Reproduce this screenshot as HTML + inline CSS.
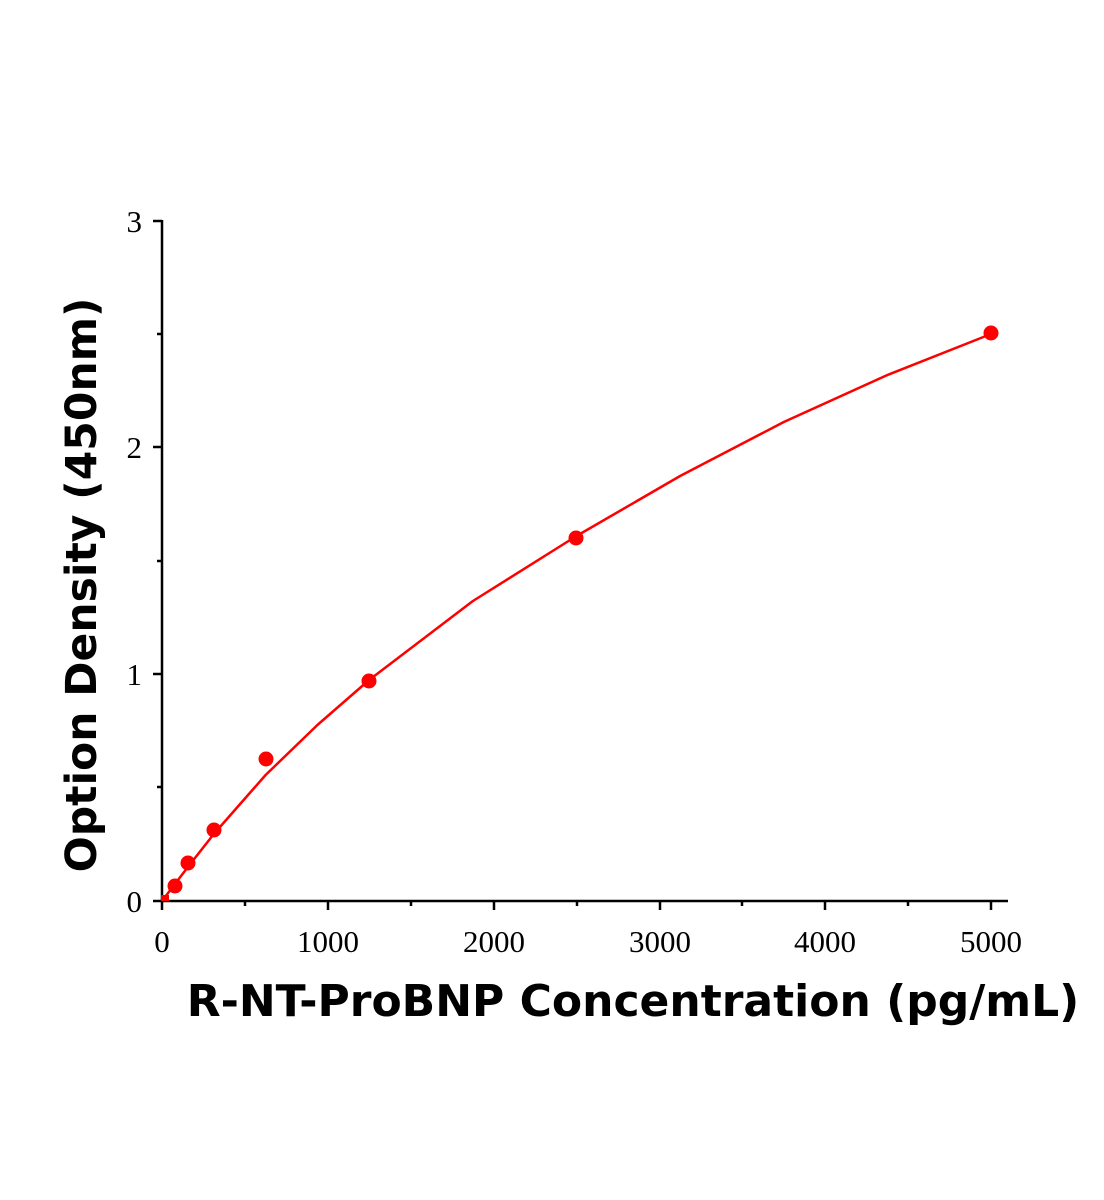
<!DOCTYPE html>
<html><head><meta charset="utf-8"><style>body{margin:0;background:#fff}svg{display:block}</style></head>
<body>
<svg width="1104" height="1200" xmlns="http://www.w3.org/2000/svg">
<g stroke="#000" stroke-width="2.5" fill="none">
<line x1="162" y1="220" x2="162" y2="902"/>
<line x1="161" y1="901" x2="1008" y2="901"/>
<line x1="162" y1="901" x2="162" y2="910"/>
<line x1="328" y1="901" x2="328" y2="910"/>
<line x1="494" y1="901" x2="494" y2="910"/>
<line x1="660" y1="901" x2="660" y2="910"/>
<line x1="825" y1="901" x2="825" y2="910"/>
<line x1="991" y1="901" x2="991" y2="910"/>
<line x1="245" y1="901" x2="245" y2="906"/>
<line x1="411" y1="901" x2="411" y2="906"/>
<line x1="577" y1="901" x2="577" y2="906"/>
<line x1="742" y1="901" x2="742" y2="906"/>
<line x1="908" y1="901" x2="908" y2="906"/>
<line x1="153" y1="901" x2="162" y2="901"/>
<line x1="153" y1="674" x2="162" y2="674"/>
<line x1="153" y1="447" x2="162" y2="447"/>
<line x1="153" y1="221" x2="162" y2="221"/>
<line x1="157" y1="787" x2="162" y2="787"/>
<line x1="157" y1="561" x2="162" y2="561"/>
<line x1="157" y1="334" x2="162" y2="334"/>
</g>
<g font-family="Liberation Serif, serif" font-size="31" fill="#000">
<g text-anchor="middle">
<text x="162" y="952">0</text><text x="328" y="952">1000</text><text x="494" y="952">2000</text>
<text x="660" y="952">3000</text><text x="825" y="952">4000</text><text x="991" y="952">5000</text>
</g>
<g text-anchor="end">
<text x="142" y="912">0</text><text x="142" y="685">1</text><text x="142" y="458">2</text><text x="142" y="232">3</text>
</g>
</g>
<text x="633" y="1016" text-anchor="middle" font-family="DejaVu Sans, sans-serif" font-weight="bold" font-size="44" fill="#000">R-NT-ProBNP Concentration (pg/mL)</text>
<text transform="translate(96,585) rotate(-90)" text-anchor="middle" font-family="DejaVu Sans, sans-serif" font-weight="bold" font-size="42.5" fill="#000">Option Density (450nm)</text>
<polyline fill="none" stroke="#f00" stroke-width="2.5" stroke-linejoin="round" points="162,901 187.9,867 213.8,834 265.6,775 317.4,725 369.1,680 472.9,601 576.5,536 680.1,476 783.8,422 887.4,375 991,334"/>
<g fill="#f00">
<rect x="161" y="895" width="8" height="6"/>
<circle cx="175" cy="886" r="7.5"/><circle cx="188" cy="863" r="7.5"/><circle cx="214" cy="830" r="7.5"/>
<circle cx="266" cy="759" r="7.5"/><circle cx="369" cy="681" r="7.5"/><circle cx="576" cy="538" r="7.5"/><circle cx="991" cy="333" r="7.5"/>
</g>
</svg>
</body></html>
